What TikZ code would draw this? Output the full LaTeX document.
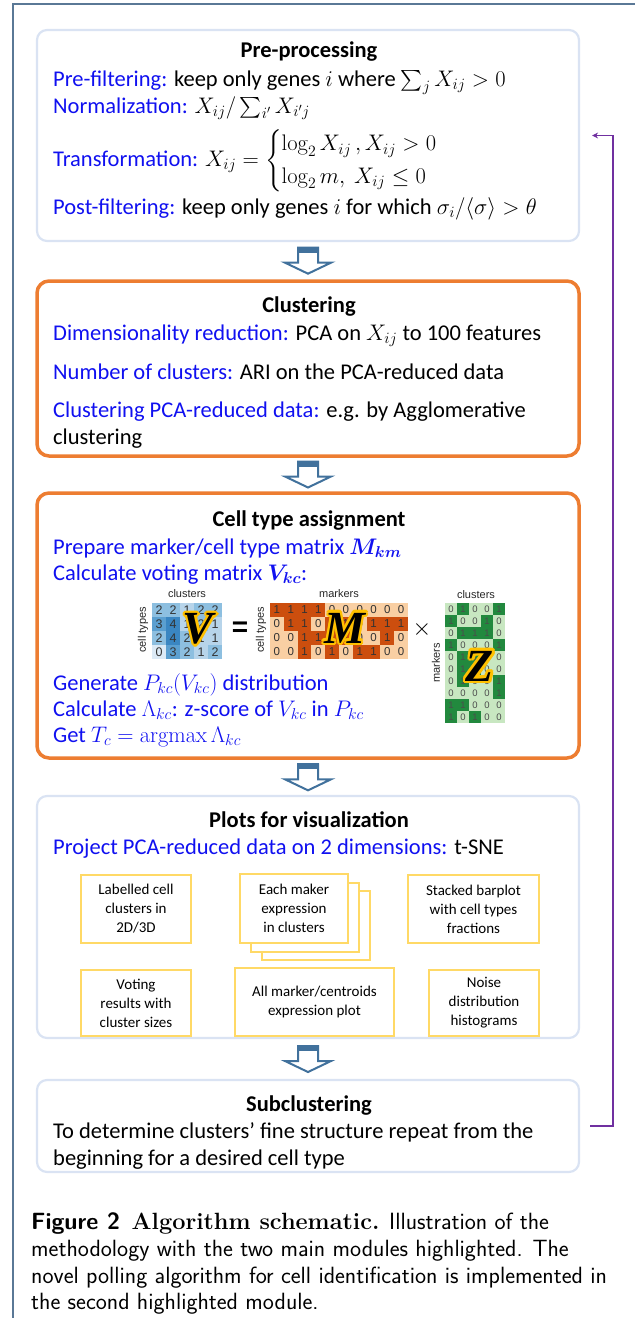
\RequirePackage{fix-cm}
\documentclass[tikz,border=0pt]{standalone}
\usepackage{amsmath}
\usepackage{fontspec}
\newfontfamily\carlito{Carlito}
\newfontfamily\lsans{Liberation Sans}
\newfontfamily\lserif{Liberation Serif}
\usetikzlibrary{calc,arrows.meta}
\definecolor{boxblue}{HTML}{DAE3F3}
\definecolor{orng}{HTML}{ED7D31}
\definecolor{ylw}{HTML}{FFD966}
\definecolor{txtblue}{HTML}{1010F0}
\definecolor{arrblue}{HTML}{41719C}
\definecolor{frameblue}{HTML}{5A7896}
\definecolor{purp}{HTML}{7030A0}
\definecolor{vb0}{HTML}{DCEAF6}
\definecolor{vb1}{HTML}{B7D4EA}
\definecolor{vb2}{HTML}{8DBFE0}
\definecolor{vb3}{HTML}{5B9FD0}
\definecolor{vb4}{HTML}{3A86C2}
\definecolor{mo0}{HTML}{F9CFA3}
\definecolor{mo1}{HTML}{CC4E0E}
\definecolor{zg0}{HTML}{C8E7C1}
\definecolor{zg1}{HTML}{22893E}
\definecolor{glowc}{HTML}{FFC000}
\newcommand{\blu}[1]{{\color{txtblue}#1}}
\begin{document}
\begin{tikzpicture}[x=1pt,y=-1pt,
  softbox/.style={draw=boxblue, line width=2.2, rounded corners=10, minimum width=542, minimum height=#1, inner sep=0},
  hotbox/.style={draw=orng, line width=3.5, rounded corners=12, minimum width=542, minimum height=#1, inner sep=0},
  ybox/.style={draw=ylw, line width=2, fill=white, inner sep=0, align=center, font=\carlito\fontsize{15}{19}\selectfont},
  body/.style={anchor=base west, inner sep=0, font=\carlito\fontsize{22.5}{27}\selectfont},
  ttl/.style={anchor=base, inner sep=0, font=\carlito\bfseries\fontsize{22.5}{27}\selectfont},
  captxt/.style={anchor=base west, inner sep=0, font=\sffamily\fontsize{23.5}{27}\selectfont},
  lbl/.style={inner sep=0, font=\lsans\fontsize{11}{11}\selectfont, text=black!85},
  vcell/.style={minimum width=14, minimum height=14, inner sep=0, font=\lsans\fontsize{12.5}{12.5}\selectfont, text=black!80},
  mcell/.style={minimum width=13.8, minimum height=14, inner sep=0, font=\lsans\fontsize{11.5}{11.5}\selectfont, text=black!80},
  zcell/.style={minimum width=12, minimum height=12, inner sep=0, font=\lsans\fontsize{9.5}{9.5}\selectfont, text=black!70},
  glow/.style={inner sep=0, text=glowc, font=\lserif\bfseries\itshape\fontsize{46}{46}\selectfont},
  bigl/.style={inner sep=0, text=black, font=\lserif\bfseries\itshape\fontsize{46}{46}\selectfont},
  blockarrow/.pic={
    \draw[arrblue, line width=2, fill=white, line join=miter] (-10,-13) -- (10,-13) -- (10,2) -- (23,2) -- (0,13) -- (-23,2) -- (-10,2) -- cycle;
    \fill[arrblue] (-11,-14) rectangle (11,-8);
  }
]
\useasboundingbox (0,0) rectangle (635,1318);
% outer frame
\draw[frameblue, line width=1.5] (13,1318) -- (13,4) -- (635,4);

% main boxes
\node[softbox=211] (pre) at (308,135.5) {};
\node[hotbox=175] (clu) at (308,368.5) {};
\node[hotbox=265] (cta) at (308,625.5) {};
\node[softbox=242] (plo) at (308,917) {};
\node[softbox=92] (sub) at (308,1126) {};

% block arrows
\path (pre.south) -- (clu.north) coordinate[pos=0.5] (a1);
\path (clu.south) -- (cta.north) coordinate[pos=0.5] (a2);
\path (cta.south) -- (plo.north) coordinate[pos=0.5] (a3);
\path (plo.south) -- (sub.north) coordinate[pos=0.5] (a4);
\pic at (a1) {blockarrow};
\pic at (a2) {blockarrow};
\pic at (a3) {blockarrow};
\pic at (a4) {blockarrow};

% feedback loop
\draw[purp, line width=1.5, -{Stealth[length=6pt,width=6pt]}] ($(sub.east)+(10,0)$) -- ++(23,0) |- ($(pre.east)+(12,0)$);

% Pre-processing
\node[ttl] (t1) at (309,57) {Pre-processing};
\node[body] (p1) at (53,86) {\blu{Pre-filtering:} keep only genes $i$ where $\sum_j X_{ij} > 0$};
\node[body] (p2) at (53,113) {\blu{Normalization:} $X_{ij}/\sum_{i'} X_{i'j}$};
\node[body] (p3) at (53,166) {\blu{Transformation:} $X_{ij} = \begin{cases} \log_2 X_{ij}\,, X_{ij} > 0 \\ \log_2 m,\ X_{ij} \le 0 \end{cases}$};
\node[body] (p4) at (53,214) {\blu{Post-filtering:} keep only genes $i$ for which $\sigma_i/\langle\sigma\rangle > \theta$};

% Clustering
\node[ttl] (t2) at (309,312) {Clustering};
\node[body] (c1) at (53,340) {\blu{Dimensionality reduction:} PCA on $X_{ij}$ to 100 features};
\node[body] (c2) at (53,379) {\blu{Number of clusters:} ARI on the PCA-reduced data};
\node[body] (c3) at (53,417) {\blu{Clustering PCA-reduced data:} e.g. by Agglomerative};
\node[body] (c4) at (53,444) {clustering};

% Cell type assignment
\node[ttl] (t3) at (309,526) {Cell type assignment};
\node[body, text=txtblue] (a1t) at (53,554) {Prepare marker/cell type matrix $\boldsymbol{M_{km}}$};
\node[body, text=txtblue] (a2t) at (53,580) {Calculate voting matrix $\boldsymbol{V_{kc}}$:};
\node[body, text=txtblue] (a3t) at (53,690) {Generate $P_{kc}(V_{kc})$ distribution};
\node[body, text=txtblue] (a4t) at (53,716) {Calculate $\Lambda_{kc}$: z-score of $V_{kc}$ in $P_{kc}$};
\node[body, text=txtblue] (a5t) at (53,742) {Get $T_c = \operatorname{argmax}\Lambda_{kc}$};

% V matrix
\foreach \row [count=\r] in {{2,2,1,2,2},{3,4,1,2,1},{2,4,2,1,1},{0,3,2,1,2}}{
  \foreach \v [count=\c] in \row {
    \node[vcell, fill=vb\v] (v-\r-\c) at ({152+14*(\c-0.5)},{603+14*(\r-0.5)}) {\v};
  }
}
% M matrix
\foreach \row [count=\r] in {{1,1,1,1,0,0,0,0,0,0},{0,1,1,0,1,1,0,1,1,1},{0,0,1,1,1,1,0,0,1,0},{0,0,1,0,1,0,1,1,0,0}}{
  \foreach \v [count=\c] in \row {
    \node[mcell, fill=mo\v] (m-\r-\c) at ({270+13.8*(\c-0.5)},{603+14*(\r-0.5)}) {\v};
  }
}
% Z matrix
\foreach \row [count=\r] in {{0,1,0,0,1},{1,0,0,1,0},{0,1,1,1,0},{1,0,0,0,1},{0,1,1,0,0},{0,1,1,0,0},{0,1,0,0,1},{0,0,0,0,1},{1,1,0,0,0},{1,0,1,0,0}}{
  \foreach \v [count=\c] in \row {
    \node[zcell, fill=zg\v] (z-\r-\c) at ({445+12*(\c-0.5)},{603+12*(\r-0.5)}) {\v};
  }
}
% matrix labels
\node[lbl] (lv1) at (187,594) {clusters};
\node[lbl, rotate=90] (lv2) at (143,630) {cell types};
\node[inner sep=0, font=\lsans\bfseries\fontsize{28}{28}\selectfont] (eq) at (240,629) {=};
\node[lbl, rotate=90] (lm2) at (261,630) {cell types};
\node[lbl] (lm1) at (339,594) {markers};
\node[inner sep=0, font=\fontsize{24}{24}\selectfont] (times) at (422,629) {$\times$};
\node[lbl] (lz1) at (476,595) {clusters};
\node[lbl, rotate=90] (lz2) at (436,663) {markers};

% glowing letters
\foreach \a [count=\i] in {0,30,...,330}{
  \node[glow] (gv\i) at ($(198,629)+(\a:2.4)$) {V};
  \node[glow] (gm\i) at ($(345,628)+(\a:2.4)$) {M};
  \node[glow] (gz\i) at ($(480,666)+(\a:2.4)$) {Z};
}
\node[bigl] (bv) at (198,629) {V};
\node[bigl] (bm) at (345,628) {M};
\node[bigl] (bz) at (480,666) {Z};

% Plots for visualization
\node[ttl] (t4) at (309,827) {Plots for visualization};
\node[body] (pl1) at (53,854) {\blu{Project PCA-reduced data on 2 dimensions:} t-SNE};
\node[ybox, minimum width=110, minimum height=68] (bA) at (136,909) {Labelled cell\\clusters in\\2D/3D};
\node[ybox, minimum width=108, minimum height=69] (bB3) at (316,925.5) {};
\node[ybox, minimum width=108, minimum height=69] (bB2) at (305,917) {};
\node[ybox, minimum width=108, minimum height=69] (bB) at (294,908.5) {Each maker\\expression\\in clusters};
\node[ybox, minimum width=131, minimum height=68] (bC) at (473.5,909) {Stacked barplot\\with cell types\\fractions};
\node[ybox, minimum width=110, minimum height=66] (bD) at (136,1003) {Voting\\results with\\cluster sizes};
\node[ybox, minimum width=159, minimum height=68] (bE) at (314.5,1002) {All marker/centroids\\expression plot};
\node[ybox, minimum width=110, minimum height=66] (bF) at (484,1003) {Noise\\distribution\\histograms};

% Subclustering
\node[ttl] (t5) at (309,1111) {Subclustering};
\node[body] (s1) at (53,1138) {To determine clusters’ fine structure repeat from the};
\node[body] (s2) at (53,1165) {beginning for a desired cell type};

% caption
\node[captxt] (cap1) at (31,1229) {{\bfseries Figure 2}\hspace{0.5em}{\rmfamily\bfseries Algorithm schematic.} Illustration of the};
\node[captxt] (cap2) at (31,1256) {methodology with the two main modules highlighted. The};
\node[captxt] (cap3) at (31,1283) {novel polling algorithm for cell identification is implemented in};
\node[captxt] (cap4) at (31,1309) {the second highlighted module.};
\end{tikzpicture}
\end{document}
